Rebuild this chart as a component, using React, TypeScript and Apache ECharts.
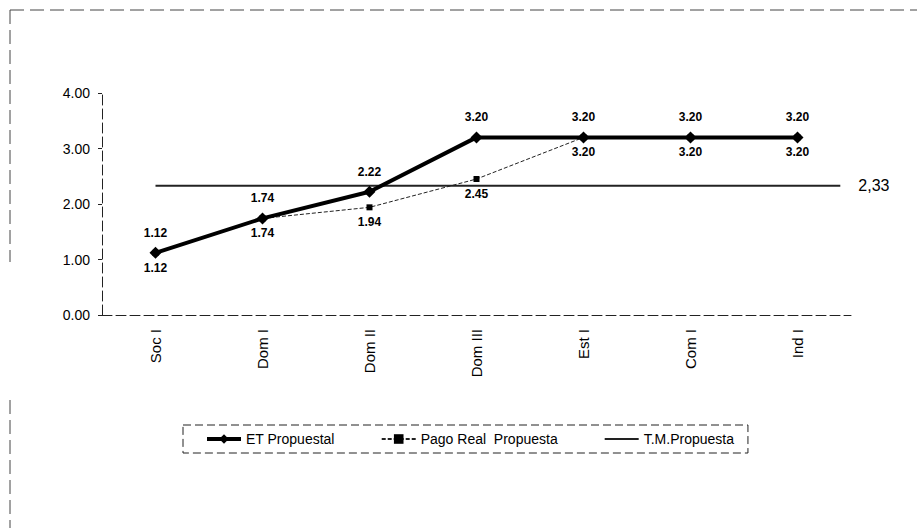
import React, { useEffect, useRef } from "react";
import * as echarts from "echarts";

const categories = ["Soc I", "Dom I", "Dom II", "Dom III", "Est I", "Com I", "Ind I"];
const etPropuesta = [1.12, 1.74, 2.22, 3.2, 3.2, 3.2, 3.2];
const pagoReal = [1.12, 1.74, 1.94, 2.45, 3.2, 3.2, 3.2];
const tmValue = 2.33;
const tmStartEnd = [0.5, 6.9];
const tmLabel = "2,33";
const yTicks = [0, 1, 2, 3, 4];

export default function App() {
  const ref = useRef<HTMLDivElement>(null);
  useEffect(() => {
    const chart = echarts.init(ref.current!, null, { renderer: "svg" });
    const font = "'Liberation Sans', Arial, sans-serif";
    chart.setOption({
      animation: false,
      backgroundColor: "#fff",
      textStyle: { fontFamily: font, color: "#000" },
      grid: { left: 102, right: 66, top: 93, bottom: 213 },
      xAxis: [
        {
          type: "category",
          data: categories,
          boundaryGap: true,
          axisLine: { lineStyle: { color: "#222", width: 1, type: [10, 4] } },
          axisTick: { show: false },
          axisLabel: { rotate: 90, margin: 14, fontSize: 15, color: "#000", fontFamily: font },
        },
        { type: "value", min: 0, max: 7, show: false },
      ],
      yAxis: {
        type: "value",
        min: yTicks[0],
        max: yTicks[yTicks.length - 1],
        interval: 1,
        axisLine: { show: true, lineStyle: { color: "#222", width: 1, type: [10, 4] } },
        axisTick: { show: true, length: 4, lineStyle: { color: "#222" } },
        splitLine: { show: false },
        axisLabel: {
          margin: 12,
          fontSize: 14,
          color: "#000",
          fontFamily: font,
          formatter: (v: number) => v.toFixed(2),
        },
      },
      legend: {
        left: 183,
        top: 425,
        itemGap: 46,
        itemWidth: 34,
        itemHeight: 12,
        padding: [7, 14, 7, 22],
        borderColor: "#222",
        borderWidth: 1,
        borderType: [8, 4],
        textStyle: { fontSize: 14, color: "#000", fontFamily: font },
        data: [
          { name: "ET Propuestal", lineStyle: { width: 4 } },
          { name: "Pago Real  Propuesta" },
          { name: "T.M.Propuesta", itemStyle: { opacity: 0 }, lineStyle: { width: 2 } },
        ],
      },
      series: [
        {
          name: "T.M.Propuesta",
          type: "line",
          xAxisIndex: 1,
          data: tmStartEnd.map((x) => [x, tmValue]),
          symbol: "none",
          lineStyle: { color: "#222", width: 2 },
          itemStyle: { color: "#222" },
          endLabel: {
            show: true,
            formatter: () => tmLabel,
            fontSize: 16,
            color: "#000",
            distance: 18,
            fontFamily: font,
          },
          z: 1,
        },
        {
          name: "Pago Real  Propuesta",
          type: "line",
          data: pagoReal,
          symbol: "rect",
          symbolSize: 6,
          lineStyle: { color: "#222", width: 1, type: [4, 2] },
          itemStyle: { color: "#000" },
          label: {
            show: true,
            position: "bottom",
            distance: 6,
            fontSize: 12,
            fontWeight: "bold",
            color: "#000",
            formatter: (p: any) => Number(p.value).toFixed(2),
          },
          z: 2,
        },
        {
          name: "ET Propuestal",
          type: "line",
          data: etPropuesta,
          symbol: "diamond",
          symbolSize: 12,
          lineStyle: { color: "#000", width: 4 },
          itemStyle: { color: "#000" },
          label: {
            show: true,
            position: "top",
            distance: 8,
            fontSize: 12,
            fontWeight: "bold",
            color: "#000",
            formatter: (p: any) => Number(p.value).toFixed(2),
          },
          z: 3,
        },
      ],
      graphic: [
        {
          type: "line",
          shape: { x1: 10, y1: 10, x2: 917, y2: 10 },
          style: { stroke: "#444", lineWidth: 1, lineDash: [14, 6] },
        },
        {
          type: "line",
          shape: { x1: 10, y1: 10, x2: 10, y2: 262 },
          style: { stroke: "#444", lineWidth: 1, lineDash: [14, 6] },
        },
        {
          type: "line",
          shape: { x1: 10, y1: 400, x2: 10, y2: 528 },
          style: { stroke: "#444", lineWidth: 1, lineDash: [14, 6] },
        },
      ],
    });
    return () => chart.dispose();
  }, []);
  return (
    <div
      ref={ref}
      style={{ position: "fixed", left: 0, top: 0, width: 917, height: 528, background: "#fff" }}
    />
  );
}
